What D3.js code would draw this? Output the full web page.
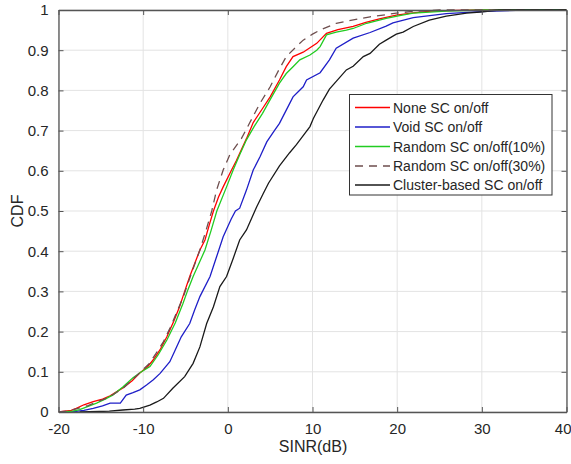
<!DOCTYPE html>
<html><head><meta charset="utf-8">
<script src="https://cdn.jsdelivr.net/npm/d3@7"></script>
<style>
html,body{margin:0;padding:0;background:#fff;overflow:hidden}
text{font-family:"Liberation Sans",Arial,Helvetica,sans-serif;fill:#262626}
</style></head><body>
<svg id="c" width="571" height="464"></svg>
<script>
const xTicks=[-20,-10,0,10,20,30,40];
const xTickLabels=["-20","-10","0","10","20","30","40"];
const yTicks=[0,0.1,0.2,0.3,0.4,0.5,0.6,0.7,0.8,0.9,1];
const yTickLabels=["0","0.1","0.2","0.3","0.4","0.5","0.6","0.7","0.8","0.9","1"];
const seriesNames=["None SC on/off","Void SC on/off","Random SC on/off(10%)","Random SC on/off(30%)","Cluster-based SC on/off"];
const noneSC=[[-20,0],[-18.5,0.004],[-17.9,0.009],[-17,0.018],[-15.9,0.026],[-14.8,0.032],[-13.9,0.04],[-12.4,0.06],[-11.3,0.078],[-10.4,0.097],[-9.5,0.112],[-8.8,0.13],[-8,0.155],[-7.2,0.187],[-6.4,0.225],[-5.7,0.262],[-5.1,0.3],[-4.5,0.337],[-3.9,0.37],[-3.3,0.403],[-2.7,0.428],[-2.2,0.465],[-1.7,0.5],[-1.1,0.535],[-0.55,0.56],[0.44,0.602],[1.0,0.625],[2.2,0.68],[3.0,0.72],[4.1,0.755],[5.0,0.784],[6.1,0.826],[6.9,0.859],[7.7,0.884],[8.9,0.895],[10.5,0.917],[11.65,0.942],[13,0.951],[14.8,0.959],[16.3,0.969],[17.9,0.978],[19.9,0.987],[21.9,0.993],[24,0.997],[27,0.999],[30,1],[40,1]];
const voidSC=[[-18.5,0],[-17,0.004],[-15.9,0.009],[-14.8,0.015],[-13.9,0.022],[-12.7,0.022],[-12,0.042],[-11.2,0.048],[-10.4,0.055],[-9.6,0.067],[-8.8,0.08],[-8.0,0.096],[-6.85,0.125],[-6.2,0.155],[-5.5,0.187],[-4.5,0.22],[-3.9,0.255],[-3.3,0.287],[-2.1,0.337],[-1.33,0.386],[-0.55,0.436],[0.4,0.48],[0.9,0.5],[1.4,0.507],[2.2,0.552],[3.0,0.602],[3.8,0.635],[4.6,0.672],[5.5,0.70],[6.1,0.718],[6.9,0.751],[7.7,0.784],[8.9,0.809],[9.3,0.826],[10.9,0.844],[12.0,0.876],[12.8,0.905],[14.8,0.93],[16.8,0.944],[18.7,0.96],[19.5,0.968],[21.9,0.981],[25.8,0.991],[29.8,0.996],[35,1],[40,1]];
const random10=[[-19.5,0],[-18.3,0.002],[-17.5,0.006],[-16.5,0.014],[-15.5,0.022],[-14.5,0.032],[-13.6,0.042],[-12.4,0.062],[-11.2,0.085],[-10.2,0.1],[-9.2,0.113],[-8.2,0.143],[-7.2,0.179],[-6.2,0.222],[-5.3,0.27],[-4.7,0.305],[-4.1,0.337],[-3.4,0.37],[-2.7,0.403],[-2.0,0.45],[-1.3,0.5],[-0.15,0.56],[0.63,0.602],[1.4,0.64],[2.2,0.677],[3.1,0.71],[4.1,0.743],[5.0,0.777],[6.1,0.818],[6.9,0.842],[7.7,0.859],[8.5,0.876],[9.7,0.888],[10.5,0.90],[10.9,0.909],[11.65,0.938],[12.8,0.945],[14.0,0.95],[14.8,0.954],[16.4,0.967],[18.7,0.979],[20.3,0.986],[21.9,0.992],[25.8,0.997],[30,1],[40,1]];
const random30=[[-20,0],[-18.8,0.003],[-17.5,0.01],[-16.5,0.016],[-15.5,0.025],[-14.2,0.035],[-13.2,0.048],[-12.2,0.062],[-11.2,0.082],[-10.3,0.1],[-9.3,0.12],[-8.5,0.145],[-7.6,0.175],[-6.8,0.21],[-6.0,0.25],[-5.2,0.29],[-4.3,0.345],[-3.3,0.403],[-2.6,0.45],[-1.9,0.5],[-1.33,0.552],[-0.55,0.602],[0.24,0.64],[1.6,0.68],[2.6,0.72],[3.8,0.768],[5.0,0.809],[6.0,0.85],[6.9,0.884],[7.9,0.905],[8.9,0.925],[10.0,0.94],[10.9,0.95],[12.8,0.967],[14.0,0.972],[16.8,0.983],[19.9,0.992],[22,0.997],[25,1],[40,1]];
const clusterSC=[[-17.5,0],[-14,0.002],[-12.4,0.005],[-11,0.007],[-10.4,0.009],[-9.2,0.017],[-8.4,0.025],[-7.6,0.034],[-6.5,0.059],[-5.1,0.088],[-4.1,0.121],[-3.3,0.162],[-2.5,0.22],[-1.7,0.262],[-0.94,0.312],[-0.15,0.337],[0.6,0.38],[1.4,0.428],[2.2,0.453],[3.4,0.51],[4.2,0.544],[4.8,0.569],[6.1,0.612],[7.3,0.645],[8.1,0.665],[9.7,0.71],[10.1,0.73],[11.25,0.776],[12.0,0.803],[14.0,0.851],[14.8,0.86],[16.0,0.884],[16.8,0.892],[17.9,0.915],[18.7,0.925],[19.9,0.94],[20.7,0.945],[21.9,0.959],[23.8,0.975],[25.8,0.985],[28.2,0.992],[29.8,0.995],[32,1],[40,1]];
const seriesData=[noneSC,voidSC,random10,random30,clusterSC];
const seriesColors=["#ff0000","#1f1fc8","#22cc22","#6e4e4e","#1a1a1a"];
const seriesDash=[null,null,null,"8,6",null];

const svg=d3.select("#c");
const L=58.5,R=566.5,T=10,B=412;
const x=d3.scaleLinear().domain([-20,40]).range([L,R]);
const y=d3.scaleLinear().domain([0,1]).range([B,T]);

const g=svg.append("g");
g.selectAll(".gx").data(xTicks).enter().append("line")
 .attr("x1",d=>x(d)).attr("x2",d=>x(d)).attr("y1",T).attr("y2",B)
 .attr("stroke","#e3e3e3").attr("stroke-width",1);
g.selectAll(".gy").data(yTicks).enter().append("line")
 .attr("y1",d=>y(d)).attr("y2",d=>y(d)).attr("x1",L).attr("x2",R)
 .attr("stroke","#e3e3e3").attr("stroke-width",1);

svg.append("clipPath").attr("id","clp").append("rect").attr("x",L).attr("y",T-2).attr("width",R-L).attr("height",B-T+2);
const line=d3.line().x(d=>x(d[0])).y(d=>y(d[1]));
const lg=svg.append("g").attr("clip-path","url(#clp)");
seriesData.forEach((s,i)=>{
  lg.append("path").attr("d",line(s)).attr("fill","none")
   .attr("stroke",seriesColors[i]).attr("stroke-width",1.3)
   .attr("stroke-dasharray",seriesDash[i]);
});

const ax=svg.append("g");
const xb=d3.axisBottom(x).tickValues(xTicks).tickSizeInner(-5).tickSizeOuter(0).tickPadding(11).tickFormat((d,i)=>xTickLabels[i]);
const xt=d3.axisTop(x).tickValues(xTicks).tickSizeInner(-5).tickSizeOuter(0).tickFormat("");
const yl=d3.axisLeft(y).tickValues(yTicks).tickSizeInner(-5).tickSizeOuter(0).tickPadding(10).tickFormat((d,i)=>yTickLabels[i]);
const yr=d3.axisRight(y).tickValues(yTicks).tickSizeInner(-5).tickSizeOuter(0).tickFormat("");
function style(sel){sel.selectAll("path").attr("stroke","#555").attr("stroke-width",1.3);
 sel.selectAll("line").attr("stroke","#555");
 sel.selectAll("text").attr("font-size",15).attr("fill","#262626").attr("font-family","Liberation Sans, Arial, sans-serif");}
const xg=ax.append("g").attr("transform",`translate(0,${B})`).call(xb).call(style);
xg.selectAll(".tick text").filter(d=>d===40).attr("text-anchor","end").attr("dx","4.5");
ax.append("g").attr("transform",`translate(0,${T})`).call(xt).call(style);
ax.append("g").attr("transform",`translate(${L},0)`).call(yl).call(style);
ax.append("g").attr("transform",`translate(${R},0)`).call(yr).call(style);

svg.append("text").attr("x",313).attr("y",452).attr("text-anchor","middle").attr("font-size",16).text("SINR(dB)");
svg.append("text").attr("transform",`translate(23,${(T+B)/2}) rotate(-90)`).attr("text-anchor","middle").attr("font-size",16).text("CDF");

const lx=349.5,ly=94.5,lw=202.5,lh=100.5;
const leg=svg.append("g");
leg.append("rect").attr("x",lx).attr("y",ly).attr("width",lw).attr("height",lh).attr("fill","#fff").attr("stroke","#333").attr("stroke-width",1);
const ys=[107.5,127,146.5,166,185];
seriesNames.forEach((n,i)=>{
  leg.append("line").attr("x1",355).attr("x2",390).attr("y1",ys[i]).attr("y2",ys[i])
   .attr("stroke",seriesColors[i]).attr("stroke-width",1.3).attr("stroke-dasharray",seriesDash[i]);
  leg.append("text").attr("x",393).attr("y",ys[i]+5).attr("font-size",14).text(n);
});
</script></body></html>
